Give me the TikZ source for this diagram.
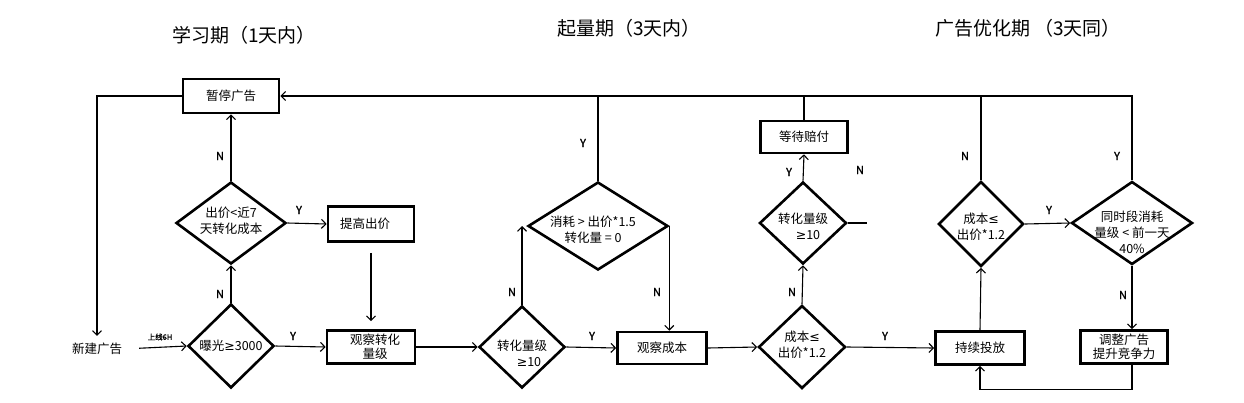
\documentclass[tikz,border=0pt]{standalone}
\usepackage{fontspec}
\setmainfont{Noto Sans CJK SC}
\newfontfamily\symfont{DejaVu Sans}
\newfontfamily\ynfont{Noto Sans CJK SC}[FakeBold=1.2]
\newcommand{\myge}{{\symfont ≥}}
\newcommand{\myle}{{\symfont ≤}}
\usetikzlibrary{arrows.meta,shapes.geometric}
\begin{document}
\begin{tikzpicture}[x=1pt,y=-1pt,
  box/.style={draw, line width=2.6pt, inner sep=0pt, font=\fontsize{12.5}{14}\selectfont, align=center},
  dia/.style={draw, shape=diamond, line width=2.6pt, inner sep=0pt},
  dtext/.style={font=\fontsize{12.5}{16}\selectfont, align=center, inner sep=0pt},
  conn/.style={line width=1.1pt},
  arr/.style={conn, -{Straight Barb[length=4.5pt,width=9pt]}},
  yn/.style={font=\ynfont\fontsize{11}{12}\selectfont, inner sep=0pt},
  ttl/.style={font=\fontsize{19}{21}\selectfont, anchor=west, inner sep=0pt}]
\fill[white] (0,0) rectangle (1244,402);
\useasboundingbox (0,0) rectangle (1244,402);

% titles
\node[ttl] (t1) at (172,35) {学习期（1天内）};
\node[ttl] (t2) at (557,28) {起量期（3天内）};
\node[ttl] (t3) at (935,28) {广告优化期 （3天同）};

% nodes
\node[box, minimum width=96pt, minimum height=34pt] (pause) at (231,96) {暂停广告};
\node[dia, minimum width=110pt, minimum height=82pt, label={[dtext, yshift=2pt]center:{出价<近7\\天转化成本}}] (d1) at (231,223) {};
\node[box, minimum width=86pt, minimum height=35pt] (raise) at (371,224) {\hspace*{-12pt}提高出价};
\node[dia, minimum width=86pt, minimum height=84pt, label={[dtext]center:{曝光\myge3000}}] (d0) at (231,346) {};
\node[font=\fontsize{12.5}{15}\selectfont, inner sep=1pt] (newad) at (97,349) {新建广告};
\node[box, minimum width=88pt, minimum height=33pt] (obs1) at (371,347) {\hspace*{8pt}观察转化\\\hspace*{8pt}量级};
\node[dia, minimum width=86pt, minimum height=82pt, label={[dtext, yshift=-6pt]center:{转化量级\\\hspace*{14pt}\myge10}}] (zl) at (522,347) {};
\node[dia, minimum width=140pt, minimum height=88pt, label={[dtext, xshift=-5pt, yshift=-4pt]center:{消耗 > 出价*1.5\\转化量 = 0}}] (xh) at (598,226) {};
\node[box, minimum width=89pt, minimum height=32pt] (obsc) at (662,348) {观察成本};
\node[dia, minimum width=87pt, minimum height=83pt, label={[dtext, yshift=2pt]center:{成本\myle\\出价*1.2}}] (cb) at (802,347) {};
\node[dia, minimum width=87pt, minimum height=82pt, label={[dtext, yshift=-3pt]center:{转化量级\\\hspace*{10pt}\myge10}}] (zl2) at (803,223) {};
\node[box, minimum width=87pt, minimum height=32pt] (wait) at (804,137) {等待赔付};
\node[box, minimum width=89pt, minimum height=33pt] (cont) at (980,348) {持续投放};
\node[dia, minimum width=85pt, minimum height=85pt, label={[dtext, yshift=-3pt]center:{成本\myle\\出价*1.2}}] (cb2) at (981,224) {};
\node[dia, minimum width=121pt, minimum height=83pt, label={[dtext, yshift=-9pt]center:{同时段消耗\\量级 < 前一天\\40\%}}] (d4) at (1132,223) {};
\node[box, minimum width=87pt, minimum height=33pt] (adj) at (1124,347) {调整广告\\提升竞争力};
\coordinate (zl2end) at (867,223);

% connectors
\draw[arr] (d1.north) -- (pause.south);
\draw[arr] (d1.east) -- (raise.west);
\draw[arr] (d0.north) -- (d1.south);
\draw[arr, shorten <=10pt, shorten >=8pt] (raise.south) -- (obs1.north);
\draw[arr, shorten <=16pt] (newad.east) -- (d0.west);
\draw[arr] (d0.east) -- (obs1.west);
\draw[arr] (obs1.east) -- (zl.west);
\draw[arr] (zl.north) -- (zl.north |- xh.west);
\draw[arr] (zl.east) -- (obsc.west);
\draw[arr] (xh.east) -- (xh.east |- obsc.north);
\draw[arr] (obsc.east) -- (cb.west);
\draw[arr] (cb.north) -- (zl2.south);
\draw[arr] (zl2.north) -- (wait.south);
\draw[conn] (zl2.east) -- (zl2end);
\draw[arr] (cb.east) -- (cont.west);
\draw[arr] (cont.north) -- (cb2.south);
\draw[arr] (cb2.east) -- (d4.west);
\draw[arr] (d4.south) -- (d4.south |- adj.north);
\draw[arr] (d4.south |- adj.south) -- ++(0,25) -| (cont.south);
\draw[arr] (d4.north) |- (pause.east);
\draw[conn] (xh.north) -- (xh.north |- pause.east);
\draw[conn] (wait.north) -- (wait.north |- pause.east);
\draw[conn] (cb2.north) -- (cb2.north |- pause.east);
\draw[arr, shorten >=6pt] (pause.west) -| (newad.north);

% labels
\node[yn] (l1) at (220,156) {N};
\node[yn] (l2) at (299,210) {Y};
\node[yn] (l3) at (220,294) {N};
\node[yn] (l4) at (293,336) {Y};
\node[font=\ynfont\fontsize{7.5}{8}\selectfont, inner sep=0pt] (l5) at (160,337) {上线6H};
\node[yn] (l6) at (512,292) {N};
\node[yn] (l7) at (592,336) {Y};
\node[yn] (l8) at (583,143) {Y};
\node[yn] (l9) at (657,292) {N};
\node[yn] (l10) at (792,292) {N};
\node[yn] (l11) at (789,172) {Y};
\node[yn] (l12) at (860,170) {N};
\node[yn] (l13) at (885,336) {Y};
\node[yn] (l14) at (965,156) {N};
\node[yn] (l15) at (1049,210) {Y};
\node[yn] (l16) at (1117,156) {Y};
\node[yn] (l17) at (1123,295) {N};
\end{tikzpicture}
\end{document}
